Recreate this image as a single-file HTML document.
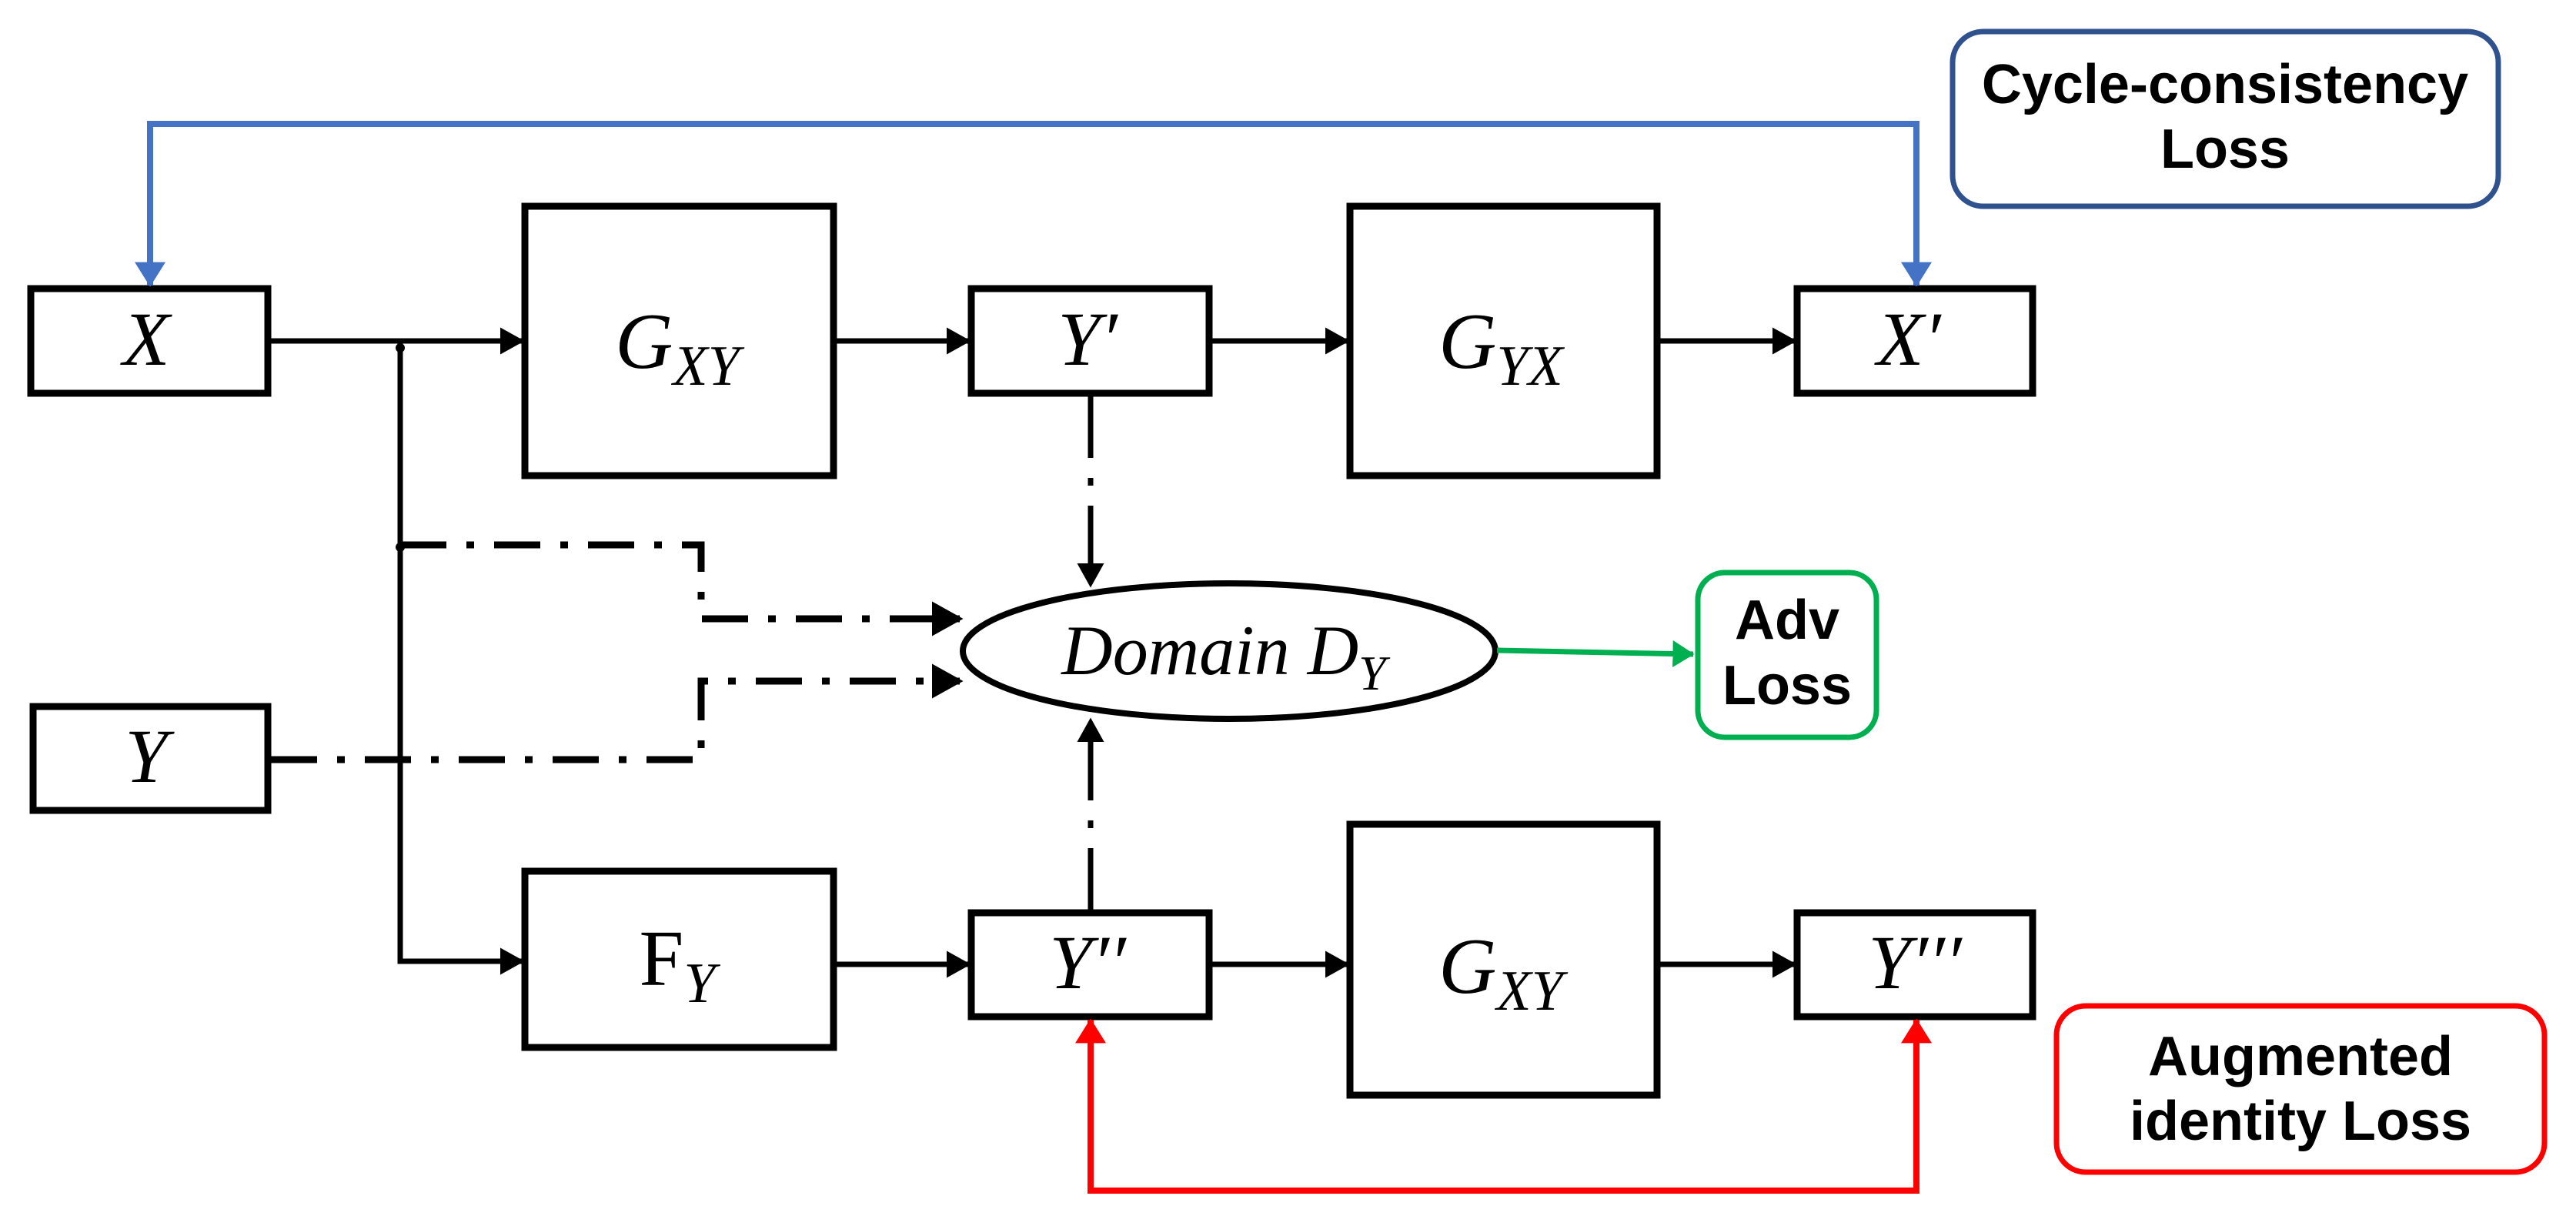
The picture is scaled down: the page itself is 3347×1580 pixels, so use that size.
<!DOCTYPE html>
<html><head><meta charset="utf-8"><style>html,body{margin:0;padding:0;background:#fff}svg{display:block}</style></head>
<body>
<svg width="3347" height="1580" viewBox="0 0 3347 1580" xmlns="http://www.w3.org/2000/svg">
<defs>
<marker id="ab" markerWidth="4.5" markerHeight="5" refX="4" refY="2.5" orient="auto" markerUnits="strokeWidth"><path d="M0,0 L4.5,2.5 L0,5 Z" fill="#000"/></marker>
<marker id="ablue" markerWidth="4" markerHeight="5" refX="3.8" refY="2.5" orient="auto-start-reverse" markerUnits="strokeWidth"><path d="M0,0 L4,2.5 L0,5 Z" fill="#4472C4"/></marker>
<marker id="ared" markerWidth="4" markerHeight="5" refX="3.8" refY="2.5" orient="auto-start-reverse" markerUnits="strokeWidth"><path d="M0,0 L4,2.5 L0,5 Z" fill="#FF0000"/></marker>
<marker id="agr" markerWidth="4" markerHeight="5" refX="3.8" refY="2.5" orient="auto" markerUnits="strokeWidth"><path d="M0,0 L4,2.5 L0,5 Z" fill="#00B050"/></marker>
</defs>
<g fill="#fff" stroke="#000" stroke-width="9">
<rect x="40" y="375" width="308" height="136"/>
<rect x="682" y="268" width="401" height="350"/>
<rect x="1262" y="375" width="309" height="136"/>
<rect x="1754" y="268" width="399" height="350"/>
<rect x="2335" y="375" width="306" height="136"/>
<rect x="43" y="918" width="305" height="135"/>
<rect x="682" y="1132" width="401" height="229"/>
<rect x="1262" y="1186" width="309" height="135"/>
<rect x="1754" y="1071" width="399" height="352"/>
<rect x="2335" y="1186" width="306" height="135"/>
</g>
<ellipse cx="1597" cy="846" rx="346" ry="88" fill="#fff" stroke="#000" stroke-width="8"/>
<g stroke="#000" stroke-width="7" fill="none">
<line x1="352" y1="443" x2="678" y2="443" marker-end="url(#ab)"/>
<line x1="1087" y1="443" x2="1258" y2="443" marker-end="url(#ab)"/>
<line x1="1575" y1="443" x2="1750" y2="443" marker-end="url(#ab)"/>
<line x1="2157" y1="443" x2="2331" y2="443" marker-end="url(#ab)"/>
<polyline points="520,443 520,1249 678,1249" marker-end="url(#ab)"/>
<line x1="1087" y1="1253" x2="1258" y2="1253" marker-end="url(#ab)"/>
<line x1="1575" y1="1253" x2="1750" y2="1253" marker-end="url(#ab)"/>
<line x1="2157" y1="1253" x2="2331" y2="1253" marker-end="url(#ab)"/>
<line x1="1417" y1="515" x2="1417" y2="760" stroke-dasharray="80,26,10,26" marker-end="url(#ab)"/>
<line x1="1417" y1="1182" x2="1417" y2="936" stroke-dasharray="80,26,10,26" marker-end="url(#ab)"/>
<polyline points="520,708 911,708 911,804 1247,804" stroke-dasharray="60,26,10,26" stroke-width="9" marker-end="url(#ab)"/>
<polyline points="352,987 911,987 911,885 1247,885" stroke-dasharray="60,26,10,26" stroke-width="9" marker-end="url(#ab)"/>
</g>
<circle cx="520" cy="452" r="6" fill="#000"/>
<circle cx="520" cy="711" r="6" fill="#000"/>
<polyline points="195,371 195,161 2490,161 2490,371" fill="none" stroke="#4472C4" stroke-width="8" marker-start="url(#ablue)" marker-end="url(#ablue)"/>
<polyline points="1417,1325 1417,1547 2490,1547 2490,1325" fill="none" stroke="#FF0000" stroke-width="8" marker-start="url(#ared)" marker-end="url(#ared)"/>
<line x1="1945" y1="845" x2="2200" y2="850" stroke="#00B050" stroke-width="7" marker-end="url(#agr)"/>
<rect x="2537" y="41" width="709" height="227" rx="40" fill="#fff" stroke="#2F528F" stroke-width="7"/>
<rect x="2206" y="744" width="232" height="214" rx="35" fill="#fff" stroke="#00B050" stroke-width="7"/>
<rect x="2672" y="1307" width="634" height="216" rx="38" fill="#fff" stroke="#FF0000" stroke-width="7"/>
<g font-family="Liberation Serif, serif" font-style="italic" fill="#000" text-anchor="middle">
<text x="190" y="474" font-size="100">X</text>
<text x="1413" y="474" font-size="100">Y′</text>
<text x="2480" y="474" font-size="100">X′</text>
<text x="190" y="1016" font-size="100">Y</text>
<text x="1413" y="1284" font-size="100">Y′′</text>
<text x="2488" y="1284" font-size="100">Y′′′</text>
<text x="880" y="478" font-size="104">G<tspan font-size="74" dy="22">XY</tspan></text>
<text x="1950" y="478" font-size="104">G<tspan font-size="74" dy="22">YX</tspan></text>
<text x="1950" y="1290" font-size="104">G<tspan font-size="74" dy="22">XY</tspan></text>
<text x="880" y="1280" font-size="104" font-style="normal">F<tspan font-size="74" dy="22" font-style="italic">Y</tspan></text>
<text x="1590" y="876" font-size="92">Domain D<tspan font-size="64" dy="20">Y</tspan></text>
</g>
<g font-family="Liberation Sans, sans-serif" font-weight="bold" fill="#000" text-anchor="middle" font-size="72">
<text x="2891" y="134">Cycle-consistency</text>
<text x="2891" y="218">Loss</text>
<text x="2322" y="830">Adv</text>
<text x="2322" y="915">Loss</text>
<text x="2989" y="1397">Augmented</text>
<text x="2989" y="1481">identity Loss</text>
</g>
</svg>
</body></html>
